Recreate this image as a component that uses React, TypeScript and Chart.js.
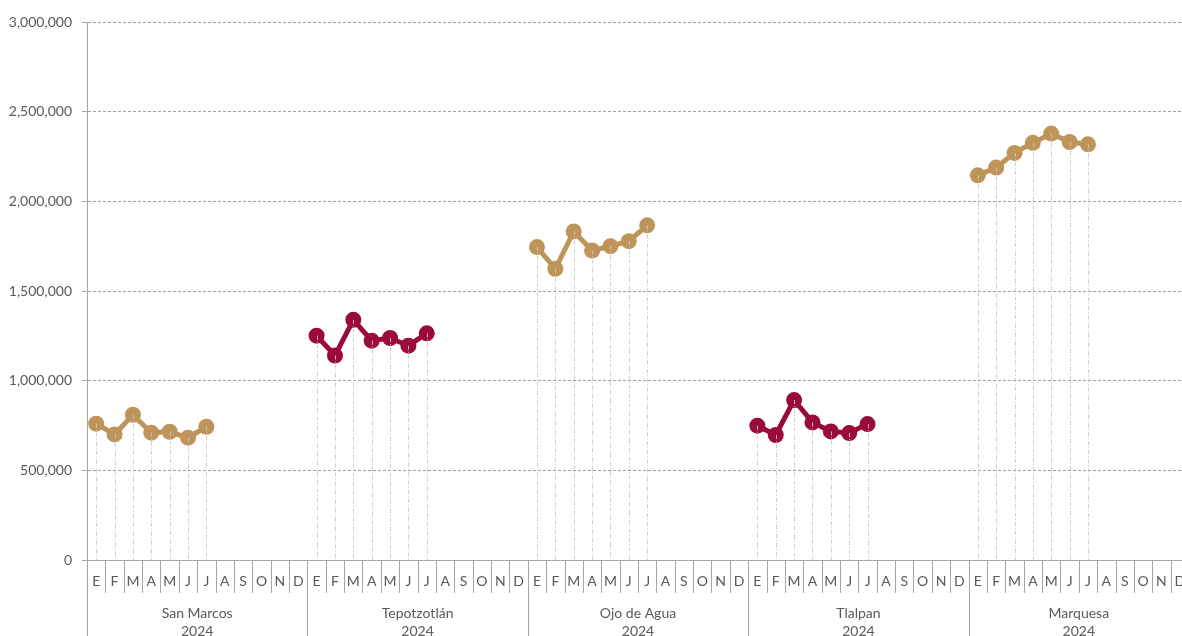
import React, { useEffect, useRef } from "react";
import { Chart, registerables } from "chart.js";

Chart.register(...registerables);

const months = ["E", "F", "M", "A", "M", "J", "J", "A", "S", "O", "N", "D"];
const groups = ["San Marcos", "Tepotzotlán", "Ojo de Agua", "Tlalpan", "Marquesa"];
const yearLabel = "2024";

const sanMarcos = [760000, 700000, 810000, 710000, 715000, 682000, 743000];
const tepotzotlan = [1251000, 1140000, 1339000, 1223000, 1238000, 1195000, 1264000];
const ojoDeAgua = [1745000, 1624000, 1832000, 1726000, 1750000, 1778000, 1866000];
const tlalpan = [749000, 697000, 892000, 767000, 717000, 708000, 758000];
const marquesa = [2145000, 2188000, 2270000, 2326000, 2378000, 2331000, 2318000];

const seriesByGroup = [sanMarcos, tepotzotlan, ojoDeAgua, tlalpan, marquesa];

const GOLD = "#BF9459";
const MAROON = "#9B0A3C";
const groupColors = [GOLD, MAROON, GOLD, MAROON, GOLD];

const TEXT = "#595959";
const AXIS = "#A6A6A6";
const FONT = "Lato, 'Noto Sans', sans-serif";

const labels: string[] = [];
groups.forEach(() => months.forEach((m) => labels.push(m)));

function buildData(gi: number): (number | null)[] {
  const arr: (number | null)[] = labels.map(() => null);
  seriesByGroup[gi].forEach((v, i) => {
    arr[gi * 12 + i] = v;
  });
  return arr;
}

const dropLines = {
  id: "dropLines",
  afterDatasetsDraw(chart: any) {
    const { ctx, chartArea } = chart;
    ctx.save();
    ctx.strokeStyle = "rgba(200,200,200,0.9)";
    ctx.lineWidth = 1;
    ctx.setLineDash([4, 2, 1, 2]);
    chart.data.datasets.forEach((ds: any, di: number) => {
      const meta = chart.getDatasetMeta(di);
      meta.data.forEach((pt: any, i: number) => {
        if (ds.data[i] == null) return;
        const x = Math.round(pt.x) + 0.5;
        ctx.beginPath();
        ctx.moveTo(x, pt.y);
        ctx.lineTo(x, chartArea.bottom);
        ctx.stroke();
      });
    });
    ctx.restore();
  },
};

const xAxisDecor = {
  id: "xAxisDecor",
  afterDraw(chart: any) {
    const { ctx, chartArea } = chart;
    const xs = chart.scales.x;
    const bottom = chartArea.bottom;
    const step = xs.getPixelForValue(1) - xs.getPixelForValue(0);
    ctx.save();
    ctx.strokeStyle = AXIS;
    ctx.lineWidth = 1;
    ctx.setLineDash([]);
    for (let i = 0; i <= labels.length; i++) {
      const x = Math.round(xs.getPixelForValue(0) - step / 2 + i * step) + 0.5;
      const isGroup = i % 12 === 0;
      ctx.beginPath();
      ctx.moveTo(x, bottom);
      ctx.lineTo(x, isGroup ? bottom + 80 : bottom + 33);
      ctx.stroke();
    }
    ctx.fillStyle = TEXT;
    ctx.textAlign = "center";
    ctx.textBaseline = "middle";
    ctx.font = "14px " + FONT;
    labels.forEach((m, i) => {
      ctx.fillText(m, xs.getPixelForValue(i), bottom + 21);
    });
    groups.forEach((g, gi) => {
      const cx = (xs.getPixelForValue(gi * 12) + xs.getPixelForValue(gi * 12 + 11)) / 2;
      ctx.fillText(g, cx, bottom + 53);
      ctx.fillText(yearLabel, cx, bottom + 71);
    });
    ctx.restore();
  },
};

export default function App() {
  const ref = useRef<HTMLCanvasElement | null>(null);

  useEffect(() => {
    if (!ref.current) return;
    const chart = new Chart(ref.current, {
      type: "line",
      data: {
        labels,
        datasets: groups.map((g, gi) => ({
          label: g,
          data: buildData(gi),
          borderColor: groupColors[gi],
          backgroundColor: groupColors[gi],
          pointBackgroundColor: groupColors[gi],
          pointBorderWidth: 0,
          pointRadius: 8,
          borderWidth: 5,
          spanGaps: false,
          tension: 0,
        })),
      },
      options: {
        animation: false,
        responsive: false,
        layout: { padding: { top: 22, bottom: 68, left: 0, right: 0 } },
        plugins: {
          legend: { display: false },
          tooltip: { enabled: false },
          title: { display: false },
        },
        scales: {
          x: {
            type: "category",
            offset: true,
            grid: { display: false },
            ticks: { display: false },
            border: { display: true, color: AXIS, width: 1 },
          },
          y: {
            min: 0,
            max: 3000000,
            afterFit: (s: any) => {
              s.width = 87;
            },
            ticks: {
              stepSize: 500000,
              padding: 10,
              color: TEXT,
              font: { size: 14, family: FONT },
              callback: (v: any) => Number(v).toLocaleString("en-US"),
            },
            grid: {
              color: "#A0A0A0",
              tickLength: 5,
              tickColor: AXIS,
              tickBorderDash: [],
              drawTicks: true,
            },
            border: { display: true, color: AXIS, width: 1, dash: [3, 2] },
          },
        },
      },
      plugins: [dropLines, xAxisDecor],
    });
    return () => chart.destroy();
  }, []);

  return (
    <div
      style={{
        position: "absolute",
        left: 0,
        top: 0,
        width: 1182,
        height: 636,
        overflow: "hidden",
        background: "#fff",
      }}
    >
      <canvas ref={ref} width={1197} height={636} style={{ display: "block" }} />
    </div>
  );
}
